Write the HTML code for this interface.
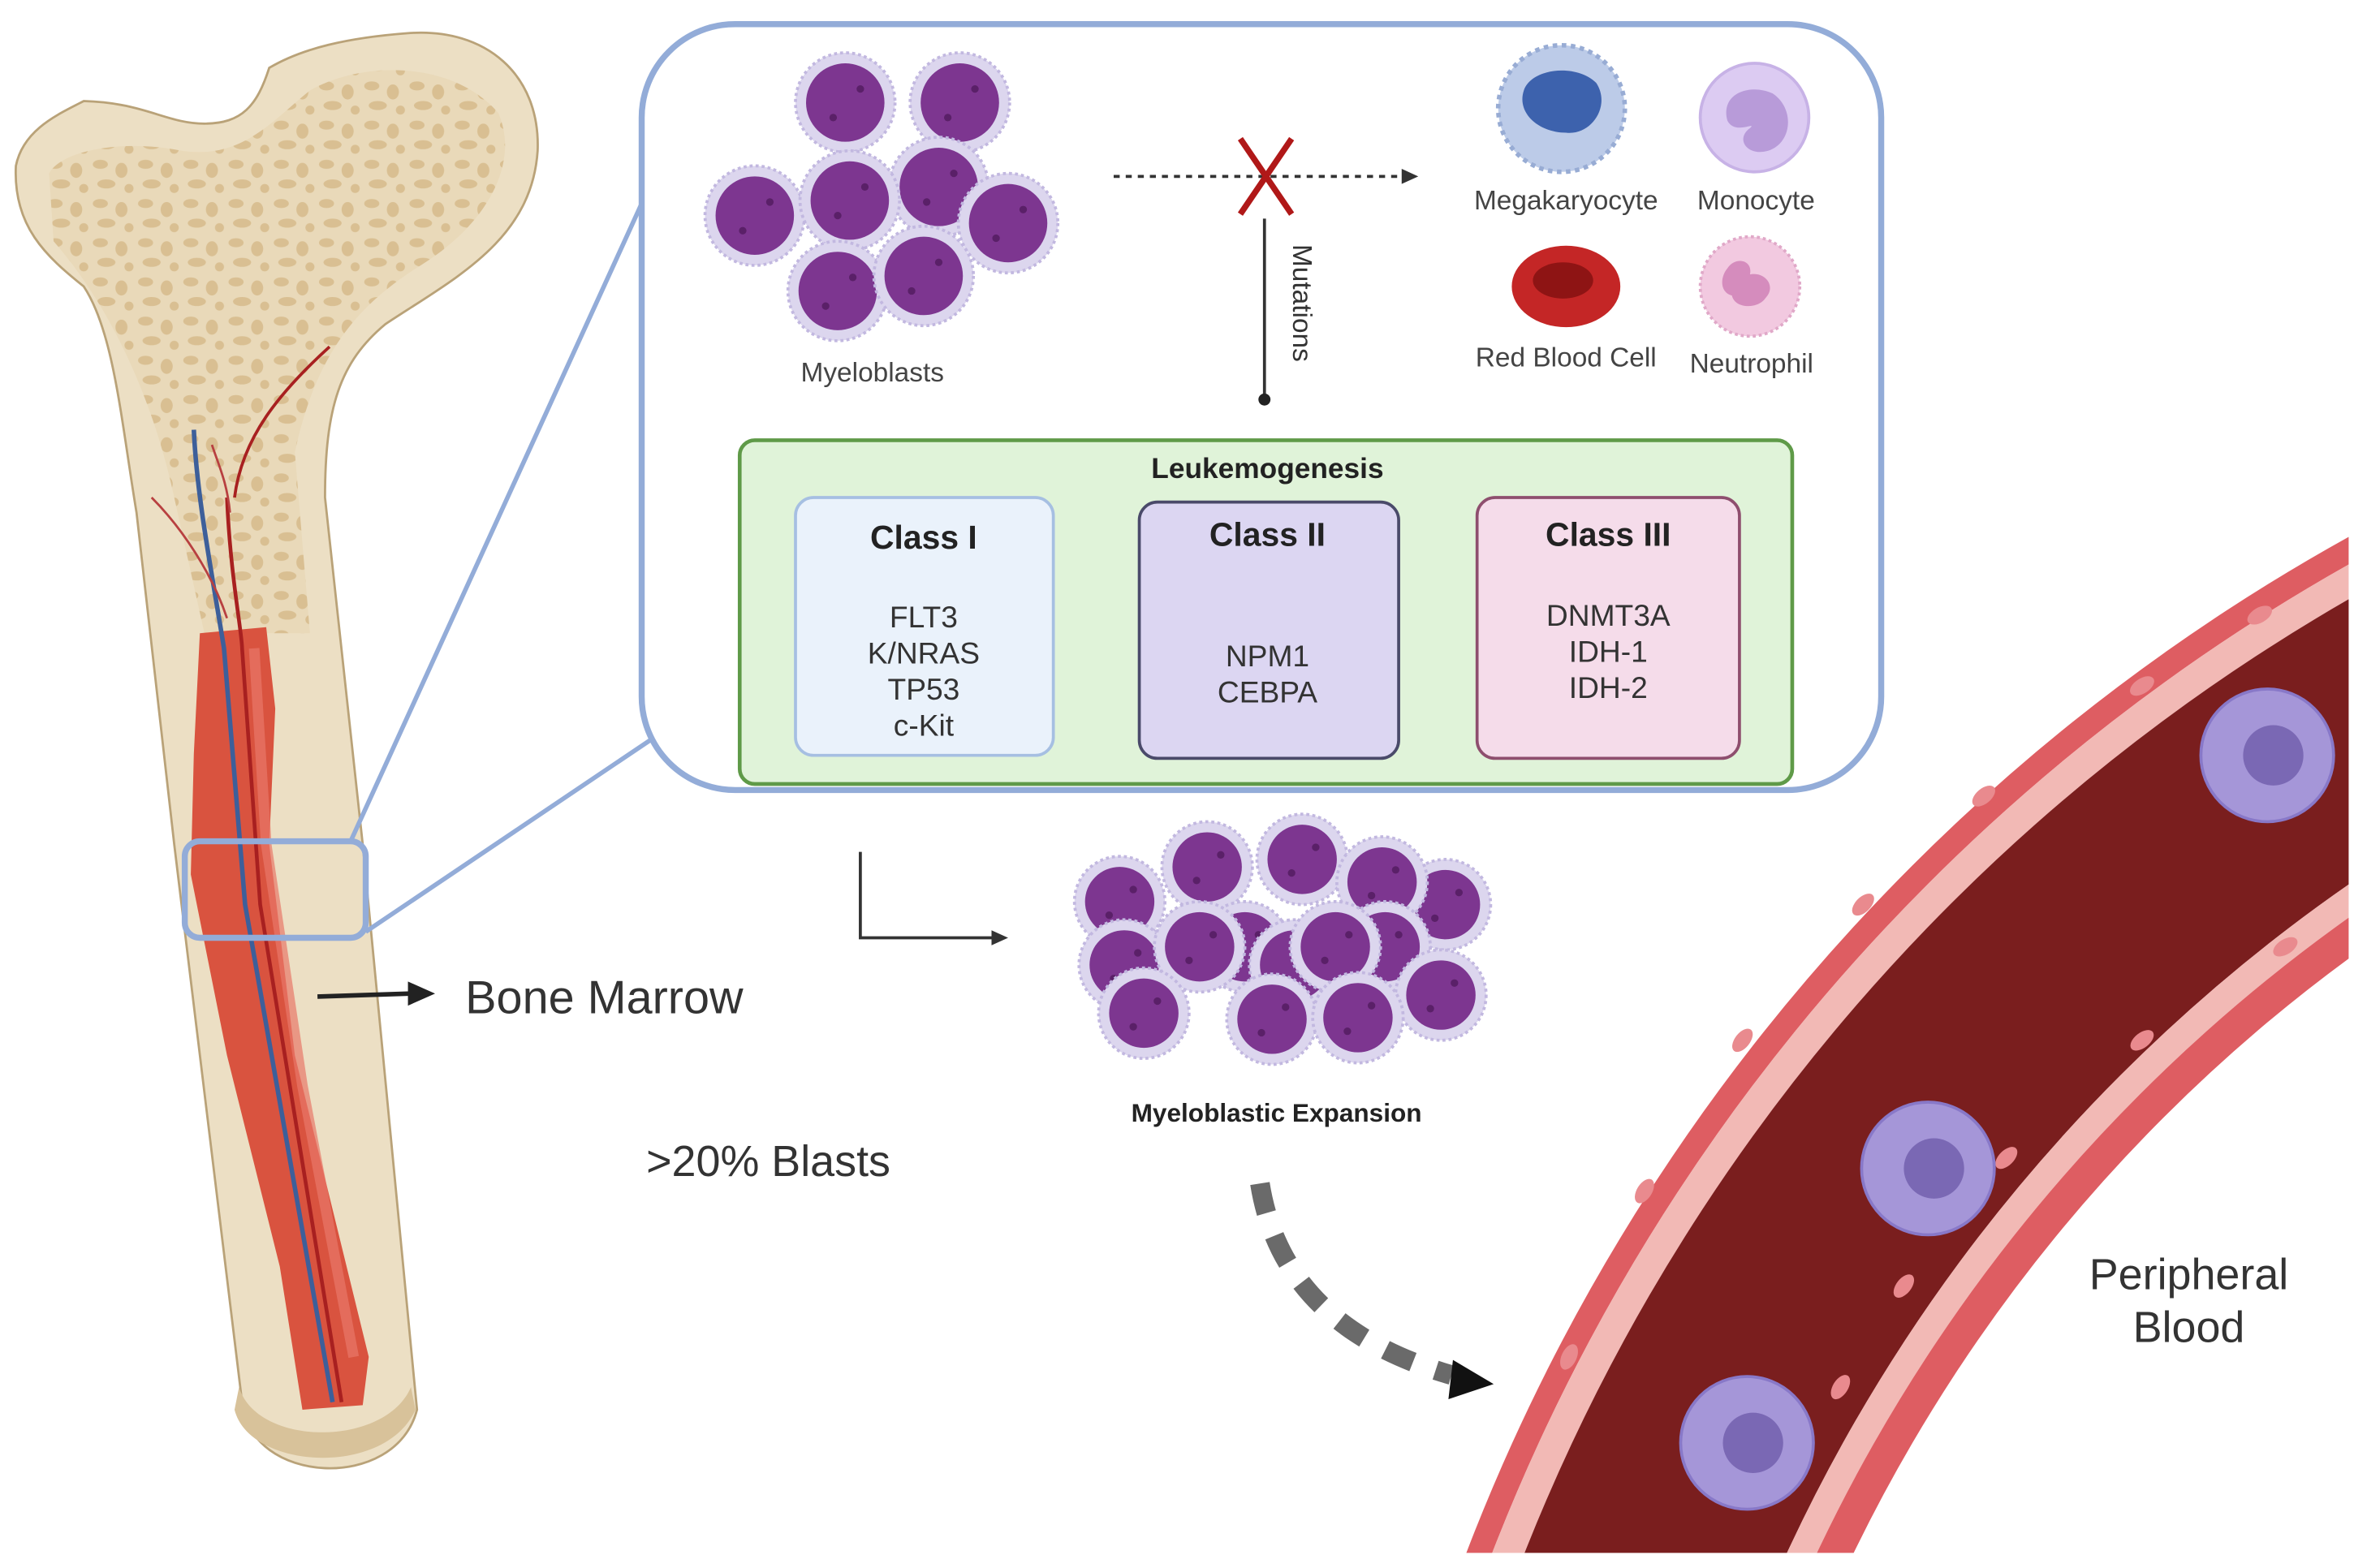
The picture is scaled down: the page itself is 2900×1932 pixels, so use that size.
<!DOCTYPE html>
<html><head><meta charset="utf-8"><style>
html,body{margin:0;padding:0;background:#fff;width:2900px;height:1932px;overflow:hidden;}
svg{display:block;}
text{font-family:"Liberation Sans",sans-serif;}
</style></head><body>
<svg width="2900" height="1932" viewBox="0 0 1560 1040" xmlns="http://www.w3.org/2000/svg">
<defs>
<pattern id="spongy" width="30" height="26" patternUnits="userSpaceOnUse">
<rect width="30" height="26" fill="#e9d9b8"/>
<ellipse cx="6" cy="5" rx="5" ry="3" fill="#d8bd8f"/>
<ellipse cx="20" cy="9" rx="4" ry="5" fill="#d8bd8f"/>
<ellipse cx="10" cy="18" rx="6" ry="3" fill="#d8bd8f"/>
<ellipse cx="25" cy="21" rx="3" ry="3" fill="#d8bd8f"/>
</pattern>
<g id="mb">
<circle r="33" fill="#dcd6ee" stroke="#c2b8e0" stroke-width="2" stroke-dasharray="2 2"/>
<circle r="26" fill="#7d3690"/>
<circle cx="-8" cy="10" r="2.5" fill="#5a2068"/>
<circle cx="10" cy="-9" r="2.5" fill="#5a2068"/>
</g>
<g id="mb2">
<circle r="30" fill="#dcd6ee" stroke="#c2b8e0" stroke-width="2" stroke-dasharray="2 2"/>
<circle r="23" fill="#7d3690"/>
<circle cx="-7" cy="9" r="2.5" fill="#5a2068"/>
<circle cx="9" cy="-8" r="2.5" fill="#5a2068"/>
</g>
<clipPath id="vclip"><rect x="900" y="300" width="657" height="730"/></clipPath>
</defs>

<!-- Bone -->
<path d="M10,110 C8,150 30,170 55,190 C75,220 80,280 90,340 L115,560 L160,930 C165,985 262,990 276,935 L240,560 L215,330 C215,270 225,240 255,215 C300,185 352,160 356,100 C358,50 322,18 270,22 C230,25 200,32 178,45 C170,70 160,82 135,82 C110,82 95,68 55,67 C40,75 15,85 10,110 Z" fill="#ecdfc4" stroke="#b9a278" stroke-width="1.5"/>
<path d="M32,115 C40,100 80,92 120,100 C160,106 180,80 205,60 C240,40 300,40 330,75 C345,110 320,150 280,175 C240,200 210,230 195,300 L205,420 L135,420 L115,330 C100,260 70,200 35,160 Z" fill="url(#spongy)" opacity="0.95"/>
<path d="M132,420 L176,416 L182,470 L178,560 L195,700 L244,900 L240,932 L200,935 L185,840 L150,700 L126,580 L128,500 Z" fill="#d9533f"/>
<path d="M168,430 L176,560 L200,720 L234,900" stroke="#e8786a" stroke-width="7" fill="none" opacity="0.7"/>
<path d="M128,285 C130,330 140,380 148,430 L162,600 L220,930" stroke="#3d5f9a" stroke-width="3" fill="none"/>
<path d="M150,330 C152,380 160,420 160,430 L172,600 L226,930" stroke="#a82020" stroke-width="2.5" fill="none"/>
<path d="M218,230 C185,260 160,290 155,330" stroke="#a82020" stroke-width="2" fill="none"/>
<path d="M100,330 C120,350 140,380 150,410" stroke="#b84040" stroke-width="1.5" fill="none"/>
<path d="M140,295 C145,310 150,320 152,340" stroke="#b84040" stroke-width="1.5" fill="none"/>
<path d="M155,935 C165,975 255,980 275,935 L272,920 C255,960 170,960 158,920 Z" fill="#d8c29a"/>

<!-- zoom box and lines -->
<rect x="122" y="558" width="120" height="64" rx="10" fill="none" stroke="#93acd8" stroke-width="4"/>
<line x1="232" y1="558" x2="425" y2="135" stroke="#93acd8" stroke-width="3"/>
<line x1="242" y1="618" x2="432" y2="490" stroke="#93acd8" stroke-width="3"/>
<rect x="425" y="16" width="822" height="508" rx="62" fill="#fff" stroke="#93acd8" stroke-width="4"/>

<!-- top myeloblasts -->
<use href="#mb" x="560" y="68"/><use href="#mb" x="636" y="68"/>
<use href="#mb" x="500" y="143"/><use href="#mb" x="622" y="124"/>
<use href="#mb" x="563" y="133"/><use href="#mb" x="668" y="148"/>
<use href="#mb" x="555" y="193"/><use href="#mb" x="612" y="183"/>
<text x="578" y="253" font-size="18" fill="#444" text-anchor="middle">Myeloblasts</text>

<!-- dotted arrow, X, mutations -->
<line x1="738" y1="117" x2="930" y2="117" stroke="#333" stroke-width="2" stroke-dasharray="4 4"/>
<polygon points="940,117 929,112 929,122" fill="#333"/>
<path d="M822,92 L856,142 M856,92 L822,142" stroke="#b01818" stroke-width="4"/>
<line x1="838" y1="145" x2="838" y2="263" stroke="#333" stroke-width="2"/>
<circle cx="838" cy="265" r="4" fill="#222"/>
<text x="0" y="0" font-size="18" fill="#333" transform="translate(857,162) rotate(90)">Mutations</text>

<!-- mature cells -->
<circle cx="1035" cy="72" r="42" fill="#bccbe8" stroke="#98acd4" stroke-width="3" stroke-dasharray="3 3"/>
<path d="M1010,60 C1015,45 1045,42 1058,55 C1068,70 1055,90 1038,88 C1020,88 1005,75 1010,60 Z" fill="#3d62ad"/>
<circle cx="1163" cy="78" r="36" fill="#dccbf2" stroke="#c7b2e6" stroke-width="2"/>
<path d="M1145,80 C1140,62 1160,55 1175,62 C1190,72 1188,95 1172,100 C1158,104 1150,92 1160,85 C1165,80 1150,90 1145,80 Z" fill="#b89bd9"/>
<text x="1038" y="139" font-size="18" fill="#444" text-anchor="middle">Megakaryocyte</text>
<text x="1164" y="139" font-size="18" fill="#444" text-anchor="middle">Monocyte</text>
<ellipse cx="1038" cy="190" rx="36" ry="27" fill="#c42626"/>
<ellipse cx="1036" cy="186" rx="20" ry="12" fill="#8e1414"/>
<circle cx="1160" cy="190" r="33" fill="#f2c9e0" stroke="#e0a8c8" stroke-width="2" stroke-dasharray="2 2"/>
<path d="M1145,178 C1150,170 1162,172 1160,182 C1170,180 1178,190 1170,198 C1165,205 1150,205 1148,196 C1140,194 1140,184 1145,178 Z" fill="#d58cbd"/>
<text x="1038" y="243" font-size="18" fill="#444" text-anchor="middle">Red Blood Cell</text>
<text x="1161" y="247" font-size="18" fill="#444" text-anchor="middle">Neutrophil</text>

<!-- Leukemogenesis -->
<rect x="490" y="292" width="698" height="228" rx="10" fill="#e0f3d9" stroke="#5f9a48" stroke-width="2.5"/>
<text x="840" y="317" font-size="19" font-weight="bold" fill="#222" text-anchor="middle">Leukemogenesis</text>
<rect x="527" y="330" width="171" height="171" rx="12" fill="#eaf2fb" stroke="#a6bfe2" stroke-width="2"/>
<text x="612" y="364" font-size="22" font-weight="bold" fill="#222" text-anchor="middle">Class I</text>
<text x="612" y="416" font-size="20" fill="#333" text-anchor="middle">FLT3</text>
<text x="612" y="440" font-size="20" fill="#333" text-anchor="middle">K/NRAS</text>
<text x="612" y="464" font-size="20" fill="#333" text-anchor="middle">TP53</text>
<text x="612" y="488" font-size="20" fill="#333" text-anchor="middle">c-Kit</text>
<rect x="755" y="333" width="172" height="170" rx="12" fill="#dcd6f2" stroke="#4a4a6a" stroke-width="2"/>
<text x="840" y="362" font-size="22" font-weight="bold" fill="#222" text-anchor="middle">Class II</text>
<text x="840" y="442" font-size="20" fill="#333" text-anchor="middle">NPM1</text>
<text x="840" y="466" font-size="20" fill="#333" text-anchor="middle">CEBPA</text>
<rect x="979" y="330" width="174" height="173" rx="12" fill="#f5dcea" stroke="#8e4e6e" stroke-width="2"/>
<text x="1066" y="362" font-size="22" font-weight="bold" fill="#222" text-anchor="middle">Class III</text>
<text x="1066" y="415" font-size="20" fill="#333" text-anchor="middle">DNMT3A</text>
<text x="1066" y="439" font-size="20" fill="#333" text-anchor="middle">IDH-1</text>
<text x="1066" y="463" font-size="20" fill="#333" text-anchor="middle">IDH-2</text>

<!-- L arrow -->
<path d="M570,565 L570,622 L660,622" fill="none" stroke="#333" stroke-width="2"/>
<polygon points="668,622 657,617 657,627" fill="#333"/>

<!-- expansion cluster -->
<use href="#mb2" x="742" y="598"/><use href="#mb2" x="800" y="575"/>
<use href="#mb2" x="863" y="570"/><use href="#mb2" x="958" y="600"/>
<use href="#mb2" x="916" y="585"/><use href="#mb2" x="745" y="640"/>
<use href="#mb2" x="918" y="628"/><use href="#mb2" x="825" y="628"/>
<use href="#mb2" x="858" y="640"/><use href="#mb2" x="795" y="628"/>
<use href="#mb2" x="885" y="628"/><use href="#mb2" x="955" y="660"/>
<use href="#mb2" x="758" y="672"/><use href="#mb2" x="843" y="676"/>
<use href="#mb2" x="900" y="675"/>
<text x="846" y="744" font-size="17" font-weight="bold" fill="#222" text-anchor="middle">Myeloblastic Expansion</text>

<!-- Bone marrow arrow -->
<line x1="210" y1="661" x2="272" y2="659" stroke="#222" stroke-width="3"/>
<polygon points="288,659 270,651 270,667" fill="#222"/>
<text x="308" y="672" font-size="31" fill="#333">Bone Marrow</text>
<text x="428" y="780" font-size="29" fill="#333">&gt;20% Blasts</text>

<!-- dashed arrow -->
<path d="M835,785 Q850,880 962,912" fill="none" stroke="#6a6a6a" stroke-width="13" stroke-dasharray="20 16"/>
<polygon points="990,918 963,902 960,928" fill="#111"/>

<!-- vessel -->
<g clip-path="url(#vclip)">
<circle cx="2188" cy="1495" r="1294" fill="none" stroke="#de5d62" stroke-width="16"/>
<circle cx="2188" cy="1495" r="1276" fill="none" stroke="#f2b9b5" stroke-width="20"/>
<circle cx="2188" cy="1495" r="1186" fill="none" stroke="#7a1e1e" stroke-width="160"/>
<circle cx="2188" cy="1495" r="1097" fill="none" stroke="#f2b9b5" stroke-width="18"/>
<circle cx="2188" cy="1495" r="1077" fill="none" stroke="#de5d62" stroke-width="22"/>
<g fill="#e98a8e">
<ellipse cx="1498" cy="408" rx="9" ry="5" transform="rotate(-30 1498 408)"/>
<ellipse cx="1420" cy="455" rx="9" ry="5" transform="rotate(-33 1420 455)"/>
<ellipse cx="1315" cy="528" rx="9" ry="5" transform="rotate(-40 1315 528)"/>
<ellipse cx="1235" cy="600" rx="9" ry="5" transform="rotate(-45 1235 600)"/>
<ellipse cx="1155" cy="690" rx="9" ry="5" transform="rotate(-52 1155 690)"/>
<ellipse cx="1090" cy="790" rx="9" ry="5" transform="rotate(-58 1090 790)"/>
<ellipse cx="1040" cy="900" rx="9" ry="5" transform="rotate(-65 1040 900)"/>
<ellipse cx="1515" cy="628" rx="9" ry="5" transform="rotate(-32 1515 628)"/>
<ellipse cx="1420" cy="690" rx="9" ry="5" transform="rotate(-38 1420 690)"/>
<ellipse cx="1330" cy="768" rx="9" ry="5" transform="rotate(-45 1330 768)"/>
<ellipse cx="1262" cy="853" rx="9" ry="5" transform="rotate(-52 1262 853)"/>
<ellipse cx="1220" cy="920" rx="9" ry="5" transform="rotate(-58 1220 920)"/>
</g>
<g>
<circle cx="1503" cy="501" r="44" fill="#a596d8" stroke="#8878c8" stroke-width="2"/>
<circle cx="1507" cy="501" r="20" fill="#7a68b4"/>
<circle cx="1278" cy="775" r="44" fill="#a596d8" stroke="#8878c8" stroke-width="2"/>
<circle cx="1282" cy="775" r="20" fill="#7a68b4"/>
<circle cx="1158" cy="957" r="44" fill="#a596d8" stroke="#8878c8" stroke-width="2"/>
<circle cx="1162" cy="957" r="20" fill="#7a68b4"/>
</g>
</g>
<text x="1451" y="855" font-size="29" fill="#333" text-anchor="middle">Peripheral</text>
<text x="1451" y="890" font-size="29" fill="#333" text-anchor="middle">Blood</text>
</svg>
</body></html>
